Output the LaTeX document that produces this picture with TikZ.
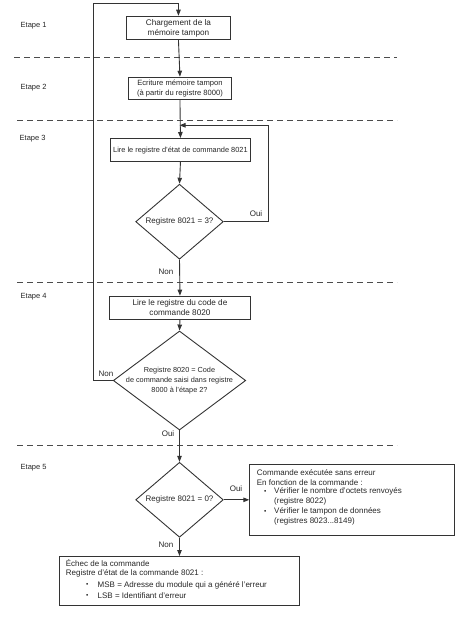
\documentclass[tikz,border=0pt]{standalone}
\usepackage{fontspec}
\setmainfont{Liberation Sans}
\usetikzlibrary{shapes.geometric,arrows.meta}
\begin{document}
\begin{tikzpicture}[x=1pt,y=-1pt,
  every node/.style={font=\fontsize{8}{10}\selectfont, text=black!85},
  box/.style={draw=black!80, line width=0.9pt, inner sep=0pt, anchor=north west},
  dia/.style={draw=black!80, line width=0.9pt, diamond, inner sep=0pt, align=center},
  con/.style={draw=black!80, line width=0.9pt},
  arr/.style={con, -{Triangle[length=6pt,width=4.5pt]}},
  sep/.style={draw=black!70, line width=0.9pt, dash pattern=on 6pt off 4pt},
  lbl/.style={anchor=west, inner sep=0pt},
  etape/.style={anchor=west, inner sep=0pt, font=\fontsize{7.5}{9}\selectfont},
  cl/.style={inner sep=0pt},
  blt/.style={anchor=west, inner sep=0pt, font=\fontsize{6.5}{8}\selectfont}]
\useasboundingbox (0,0) rectangle (474,624);

% step labels
\node[etape] (e1) at (20.5,26) {Etape 1};
\node[etape] (e2) at (20.5,88) {Etape 2};
\node[etape] (e3) at (19.5,139) {Etape 3};
\node[etape] (e4) at (20.5,296.7) {Etape 4};
\node[etape] (e5) at (20.5,467.7) {Etape 5};

% separators
\draw[sep] (14,57.3) -- (397,57.3);
\draw[sep] (17,120) -- (397,120);
\draw[sep] (17,282.3) -- (397,282.3);
\draw[sep] (17,445) -- (397,445);

% boxes
\node[box, minimum width=104pt, minimum height=23.6pt] (b1) at (126,15.7) {};
\node[align=center, cl, font=\fontsize{8.2}{10}\selectfont] (t1) at (b1.center) {Chargement de la\\mémoire tampon};
\node[box, minimum width=103pt, minimum height=22.6pt] (b2) at (128,76.7) {};
\node[align=center, cl, font=\fontsize{7.6}{9.5}\selectfont] (t2) at (b2.center) {Ecriture mémoire tampon\\(à partir du registre 8000)};
\node[box, minimum width=140pt, minimum height=23.3pt] (b3) at (110,138) {};
\node[cl, font=\fontsize{7.4}{10}\selectfont] (t3) at (b3.center) {Lire le registre d'état de commande 8021};
\node[box, minimum width=141pt, minimum height=23.3pt] (b4) at (109,295.7) {};
\node[align=center, cl, font=\fontsize{8.2}{10}\selectfont] (t4) at (b4.center) {Lire le registre du code de\\commande 8020};

% diamonds
\node[dia, minimum width=87.6pt, minimum height=75pt] (d1) at (179.5,221.7) {};
\node[cl] (td1) at (d1.center) {Registre 8021 = 3?};
\node[dia, minimum width=132.4pt, minimum height=99pt] (d2) at (179.5,380.5) {};
\node[align=center, cl, font=\fontsize{7.3}{9.7}\selectfont] (td2) at (d2.center) {Registre 8020 = Code\\de commande saisi dans registre\\8000 à l'étape 2?};
\node[dia, minimum width=87.6pt, minimum height=75pt] (d3) at (179.5,499.8) {};
\node[cl] (td3) at (d3.center) {Registre 8021 = 0?};

% result boxes
\node[box, minimum width=204.7pt, minimum height=71.3pt] (r1) at (249.3,464) {};
\node[lbl] (r1a) at (256.7,472.3) {Commande exécutée sans erreur};
\node[lbl] (r1b) at (256.7,482.3) {En fonction de la commande :};
\node[blt] (r1c) at (264,491.7) {•};
\node[lbl] (r1d) at (274,491.7) {Vérifier le nombre d’octets renvoyés};
\node[lbl] (r1e) at (274,501.7) {(registre 8022)};
\node[blt] (r1f) at (264,511.7) {•};
\node[lbl] (r1g) at (274,511.7) {Vérifier le tampon de données};
\node[lbl] (r1h) at (274,521.7) {(registres 8023...8149)};

\node[box, minimum width=240pt, minimum height=49pt] (r2) at (59.3,556) {};
\node[lbl] (r2a) at (65.7,563.3) {Échec de la commande};
\node[lbl] (r2b) at (65.7,573.3) {Registre d’état de la commande 8021 :};
\node[blt] (r2c) at (86,585) {•};
\node[lbl] (r2d) at (97.5,585) {MSB = Adresse du module qui a généré l’erreur};
\node[blt] (r2e) at (86,595.7) {•};
\node[lbl] (r2f) at (97.5,595.7) {LSB = Identifiant d’erreur};

% connectors
\coordinate (top) at (93,3.3);
\coordinate (loopin) at (179.5,125.3);
\draw[arr] (b1.south) -- (b2.north);
\draw[arr] (b2.south) -- (b3.north);
\draw[arr] (b3.south) -- (d1.north);
\draw[arr] (d1.east) -- (268.7,221.7) |- (loopin);
\node[cl] (l1) at (256,213.3) {Oui};
\draw[arr] (d1.south) -- (b4.north);
\node[cl] (l2) at (166,271.3) {Non};
\draw[arr] (b4.south) -- (d2.north);
\draw[arr] (d2.west) -- (93,380.5) -- (top) -| (b1.north);
\node[cl] (l3) at (106,374) {Non};
\draw[arr] (d2.south) -- (d3.north);
\node[cl] (l4) at (168,433.5) {Oui};
\draw[arr] (d3.east) -- (r1.west |- d3.east);
\node[cl] (l5) at (236,489) {Oui};
\draw[arr] (d3.south) -- (d3.south |- r2.north);
\node[cl] (l6) at (166,544.3) {Non};
\end{tikzpicture}
\end{document}
